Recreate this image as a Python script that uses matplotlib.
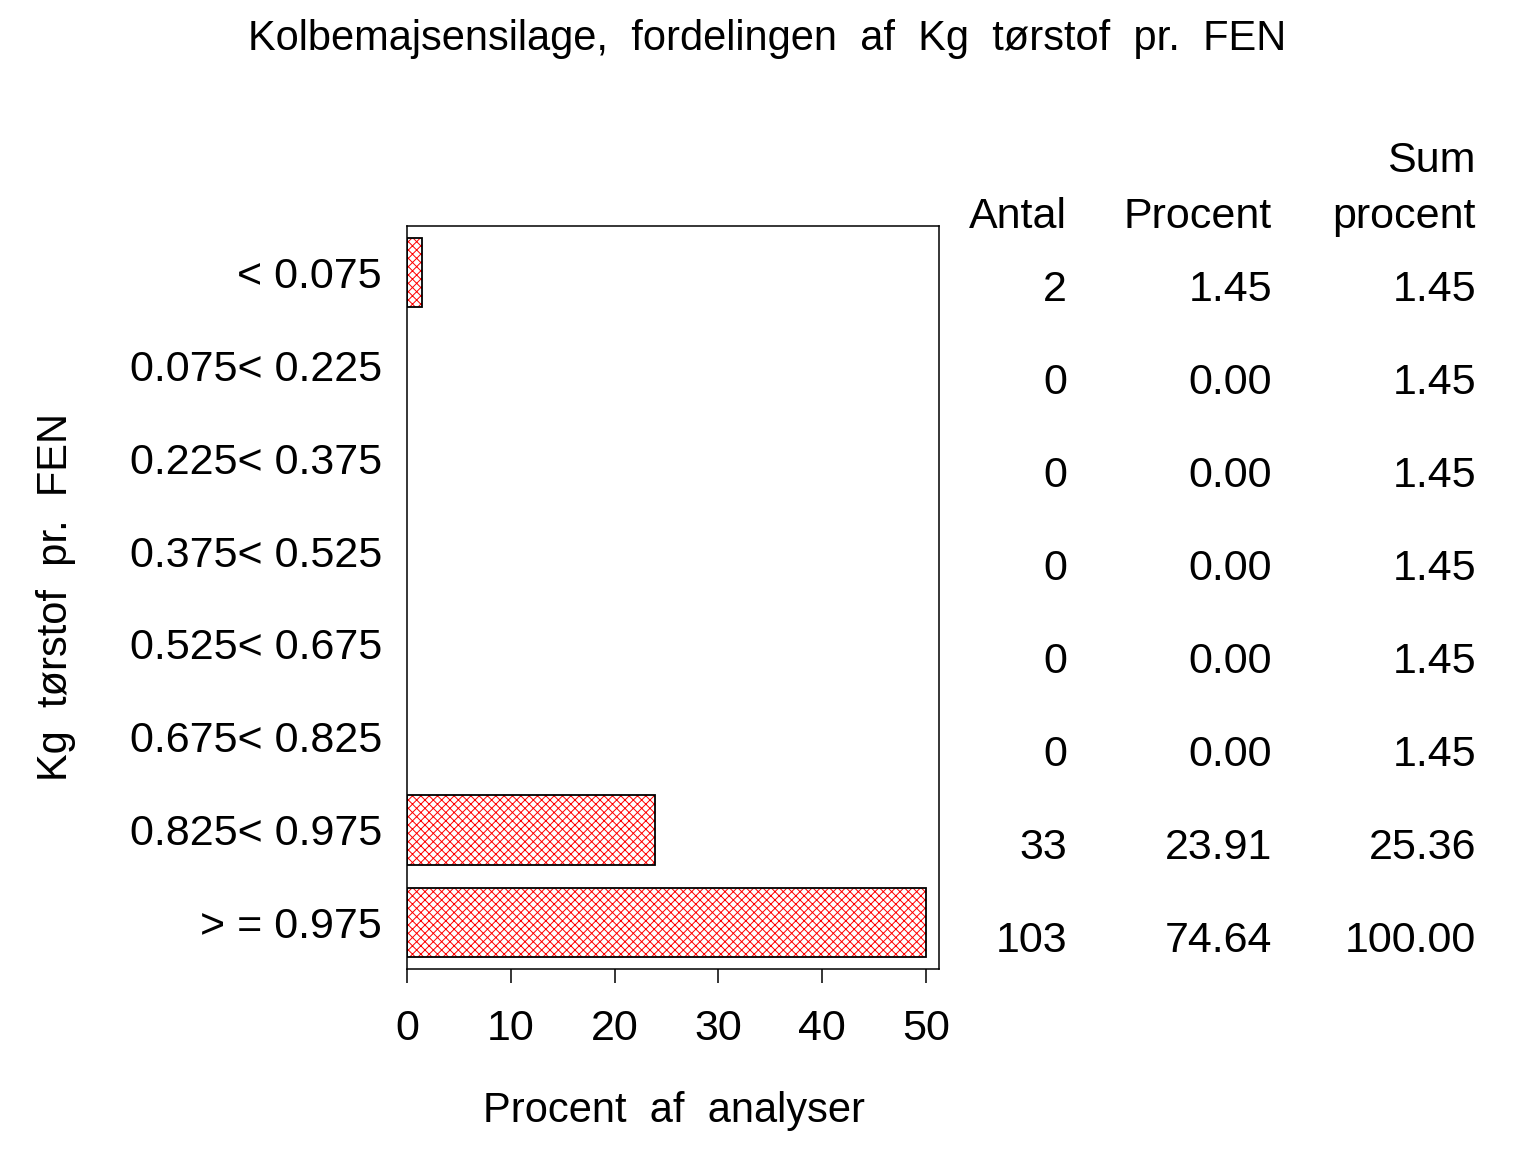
import matplotlib
matplotlib.use("Agg")
import matplotlib.pyplot as plt
import matplotlib.transforms as mtransforms
import numpy as np

plt.rcParams['font.family'] = ['Liberation Sans', 'DejaVu Sans']
plt.rcParams['hatch.linewidth'] = 0.7

categories = ["< 0.075", "0.075< 0.225", "0.225< 0.375", "0.375< 0.525",
              "0.525< 0.675", "0.675< 0.825", "0.825< 0.975", "> = 0.975"]
antal = [2, 0, 0, 0, 0, 0, 33, 103]
procent = [1.45, 0.00, 0.00, 0.00, 0.00, 0.00, 23.91, 74.64]
sum_procent = [1.45, 1.45, 1.45, 1.45, 1.45, 1.45, 25.36, 100.00]
xticks = [0, 10, 20, 30, 40, 50]
xmax = 50

FS = 31
FS_LAB = 30
W, H = 1536, 1152
fig = plt.figure(figsize=(W / 100, H / 100), dpi=100)
l, r, t, b = 407, 939, 226, 969
ax = fig.add_axes([l / W, 1 - b / H, (r - l) / W, (b - t) / H])

y = np.arange(len(categories))
vals = np.minimum(np.array(procent), xmax)
mask = vals > 0
ax.barh(y[mask], vals[mask], height=0.75, color='white', edgecolor='red',
        hatch='xxxx', linewidth=0)
ax.barh(y[mask], vals[mask], height=0.75, fill=False, edgecolor='black',
        linewidth=1.3)

ax.set_xlim(0, 51.25)
ax.set_ylim(len(categories) - 0.5, -0.5)
ax.set_xticks(xticks)
ax.set_xticklabels([str(v) for v in xticks])
ax.set_yticks(y)
ax.set_yticklabels(categories)
ax.tick_params(axis='x', direction='out', length=10, width=1.1, pad=19, labelsize=FS)
ax.tick_params(axis='y', length=0, pad=18, labelsize=FS)
for s in ax.spines.values():
    s.set_linewidth(1.1)

fig.text(674 / W, 1 - 1111 / H, "Procent  af  analyser", ha='center', va='center', fontsize=FS_LAB)
fig.text(56 / W, 1 - 597 / H, "Kg  tørstof  pr.  FEN", ha='center', va='center',
         rotation=90, fontsize=FS_LAB)
fig.text(767 / W, 1 - 39 / H, "Kolbemajsensilage,  fordelingen  af  Kg  tørstof  pr.  FEN",
         ha='center', va='center', fontsize=FS_LAB)

# table
cols_x = [1067, 1272, 1476]
hdr_base = 228
fig.text(cols_x[0] / W, 1 - hdr_base / H, "Antal", ha='right', va='baseline', fontsize=FS)
fig.text(cols_x[1] / W, 1 - hdr_base / H, "Procent", ha='right', va='baseline', fontsize=FS)
fig.text(cols_x[2] / W, 1 - hdr_base / H, "procent", ha='right', va='baseline', fontsize=FS)
fig.text(cols_x[2] / W, 1 - 172 / H, "Sum", ha='right', va='baseline', fontsize=FS)

trans = mtransforms.blended_transform_factory(fig.transFigure, ax.transData)
trans = mtransforms.offset_copy(trans, fig=fig, x=0, y=-29 * 0.72, units='points')
for i in range(len(categories)):
    fig.text(cols_x[0] / W, y[i], f"{antal[i]}", ha='right', va='baseline',
             fontsize=FS, transform=trans)
    fig.text(cols_x[1] / W, y[i], f"{procent[i]:.2f}", ha='right', va='baseline',
             fontsize=FS, transform=trans)
    fig.text(cols_x[2] / W, y[i], f"{sum_procent[i]:.2f}", ha='right', va='baseline',
             fontsize=FS, transform=trans)

fig.savefig("out.png", dpi=100)
